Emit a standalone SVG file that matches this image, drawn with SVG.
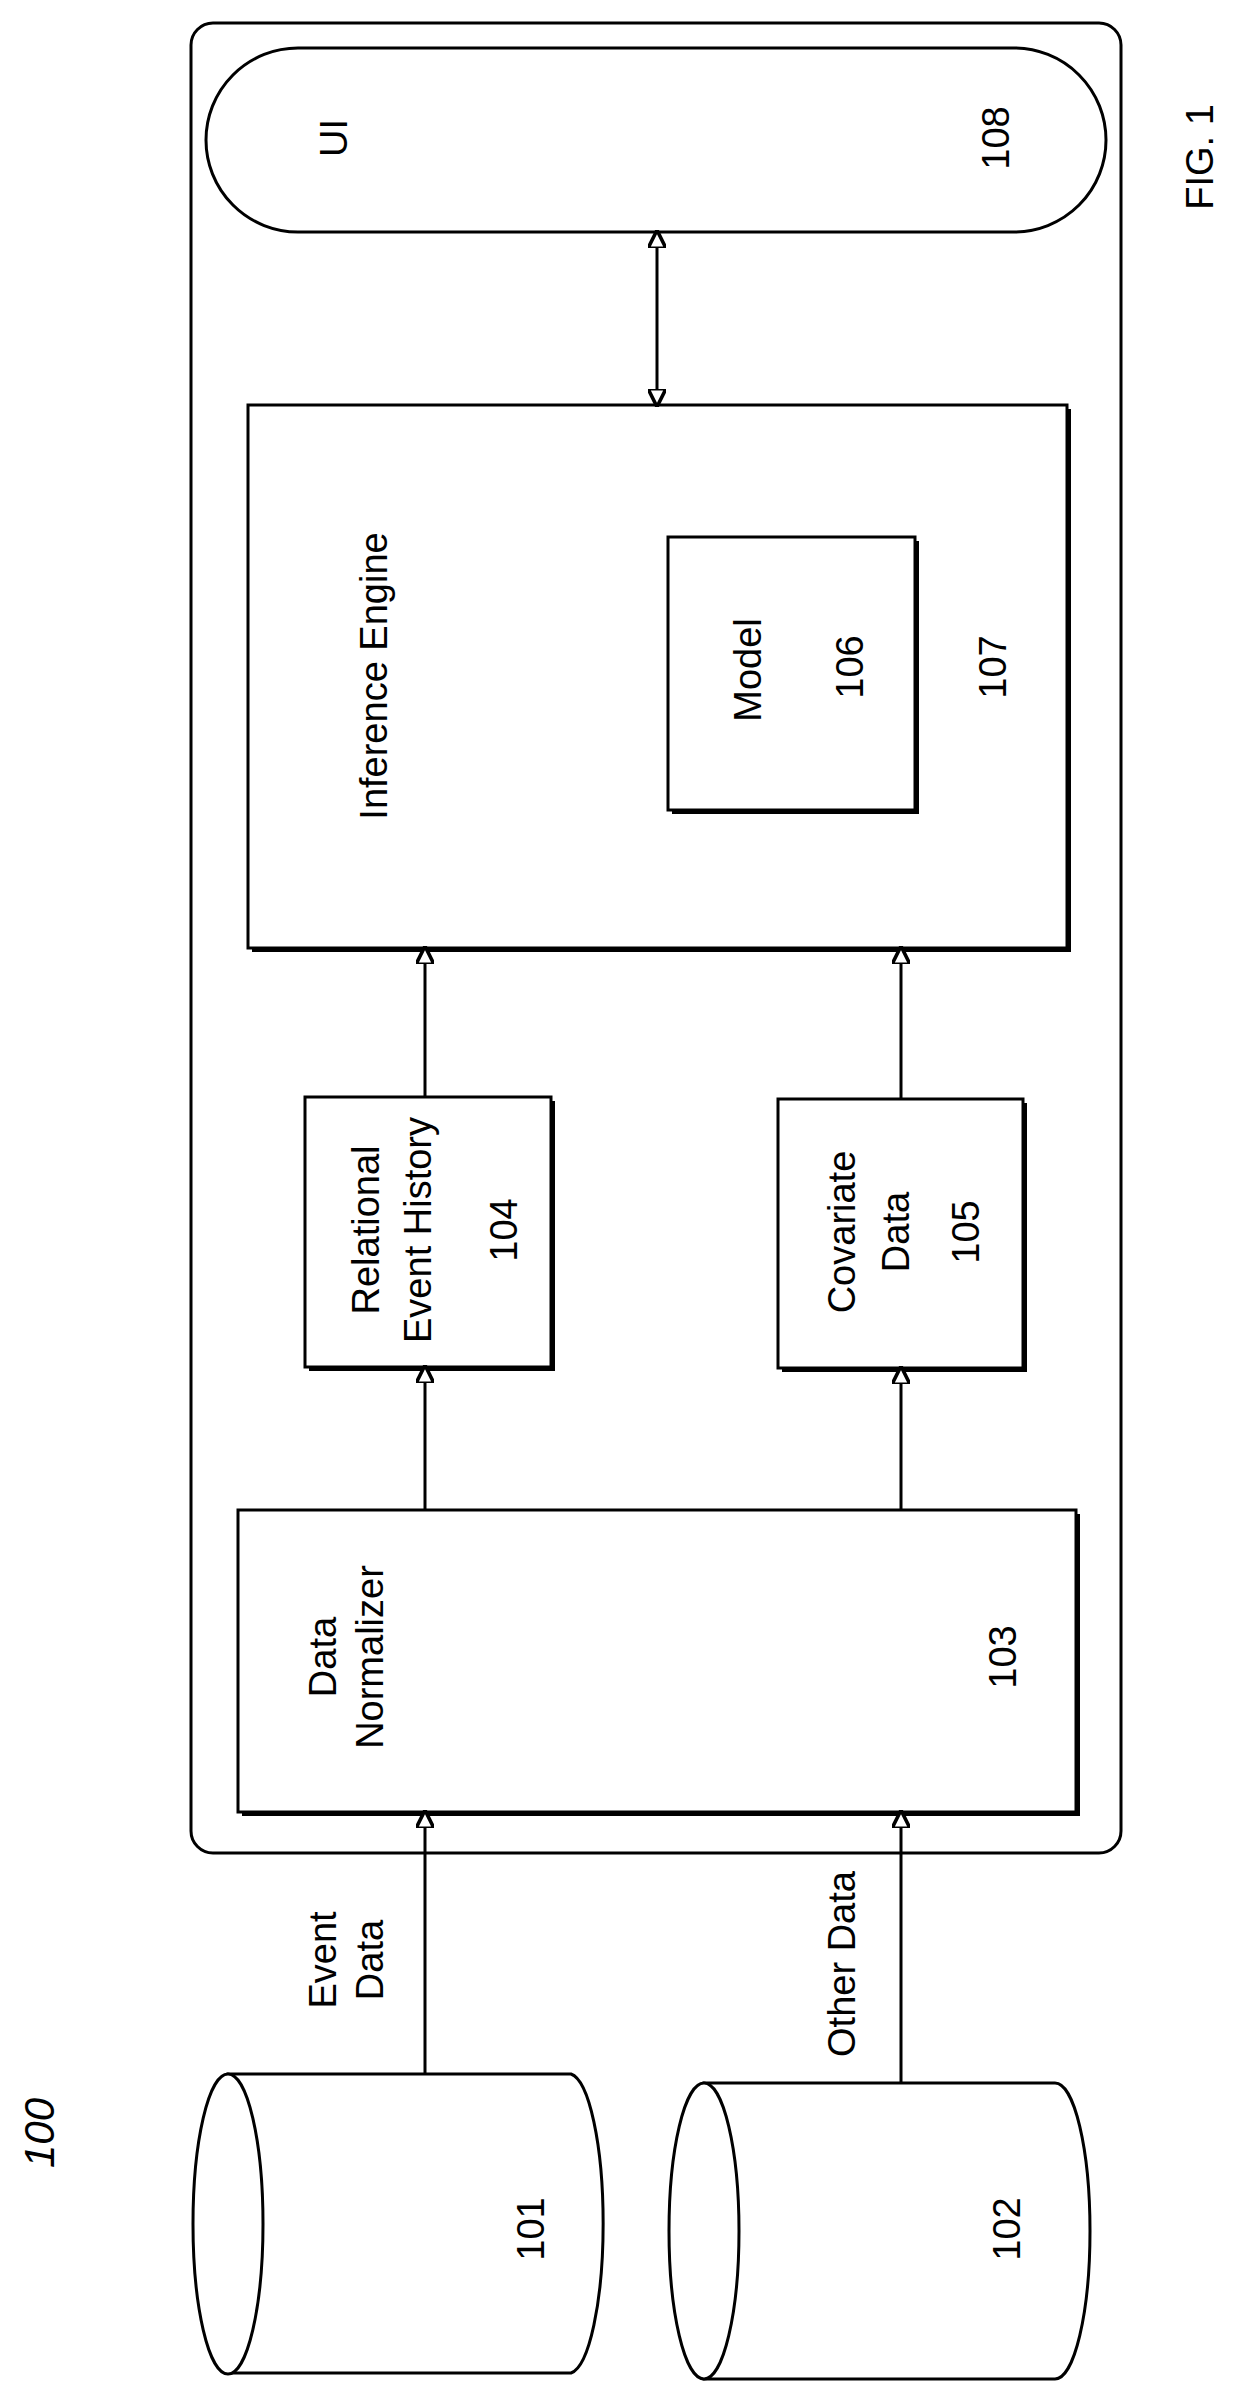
<svg xmlns="http://www.w3.org/2000/svg" width="1234" height="2388" viewBox="0 0 1234 2388">
<style>
.b{fill:#fff;stroke:#000;stroke-width:3}
.s{fill:#000}
.t{font-family:"Liberation Sans",Arial,sans-serif;font-size:38px;fill:#000;text-anchor:middle;dominant-baseline:central}
.c{stroke:#000;stroke-width:3;fill:none}
</style>
<defs>
<marker id="a" viewBox="0 0 10 10" refX="9" refY="5" markerWidth="6" markerHeight="6" orient="auto-start-reverse" markerUnits="strokeWidth"><path d="M0,0L10,5L0,10z" fill="#fff" stroke="#000" stroke-width="2"/></marker>
</defs>
<text x="39" y="2133" class="t" font-style="italic" transform="rotate(-90 39 2133)" style="font-size:42px">100</text>
<text x="1200" y="157" class="t" transform="rotate(-90 1200 157)">FIG. 1</text>
<g id="system"><rect x="191" y="23" width="930" height="1830" rx="22" class="b" stroke-width="4"/></g>
<g id="n108"><rect x="206" y="48" width="900" height="184" rx="92" class="b"/>
<text x="334" y="138" class="t" transform="rotate(-90 334 138)">UI</text>
<text x="996" y="138" class="t" transform="rotate(-90 996 138)">108</text></g>
<g id="n107"><rect x="252" y="409" width="819" height="543" class="s"/><rect x="248" y="405" width="819" height="543" class="b"/>
<text x="374" y="676" class="t" transform="rotate(-90 374 676)">Inference Engine</text>
<text x="993" y="667" class="t" transform="rotate(-90 993 667)">107</text></g>
<g id="n106"><rect x="672" y="541" width="247" height="273" class="s"/><rect x="668" y="537" width="247" height="273" class="b"/>
<text x="748" y="670" class="t" transform="rotate(-90 748 670)">Model</text>
<text x="850" y="667" class="t" transform="rotate(-90 850 667)">106</text></g>
<g id="n104"><rect x="309" y="1101" width="246" height="270" class="s"/><rect x="305" y="1097" width="246" height="270" class="b"/>
<text x="366" y="1230" class="t" transform="rotate(-90 366 1230)">Relational</text>
<text x="418" y="1230" class="t" transform="rotate(-90 418 1230)">Event History</text>
<text x="504" y="1230" class="t" transform="rotate(-90 504 1230)">104</text></g>
<g id="n105"><rect x="782" y="1103" width="245" height="269" class="s"/><rect x="778" y="1099" width="245" height="269" class="b"/>
<text x="842" y="1232" class="t" transform="rotate(-90 842 1232)">Covariate</text>
<text x="896" y="1232" class="t" transform="rotate(-90 896 1232)">Data</text>
<text x="966" y="1232" class="t" transform="rotate(-90 966 1232)">105</text></g>
<g id="n103"><rect x="242" y="1514" width="838" height="302" class="s"/><rect x="238" y="1510" width="838" height="302" class="b"/>
<text x="323" y="1657" class="t" transform="rotate(-90 323 1657)">Data</text>
<text x="370" y="1657" class="t" transform="rotate(-90 370 1657)">Normalizer</text>
<text x="1003" y="1657" class="t" transform="rotate(-90 1003 1657)">103</text></g>
<g id="n101"><path d="M228,2074H571A35,150 0 0 1 571,2373H228Z" class="b" stroke-width="4"/><ellipse cx="228" cy="2224" rx="35" ry="150" class="b"/>
<text x="531" y="2229" class="t" transform="rotate(-90 531 2229)">101</text></g>
<g id="n102"><path d="M704,2083H1055A35,148 0 0 1 1055,2379H704Z" class="b" stroke-width="4"/><ellipse cx="704" cy="2231" rx="35" ry="148" class="b"/>
<text x="1007" y="2229" class="t" transform="rotate(-90 1007 2229)">102</text></g>
<g id="connectors">
<line x1="657" y1="405" x2="657" y2="232" class="c" marker-start="url(#a)" marker-end="url(#a)"/>
<line x1="425" y1="1097" x2="425" y2="948" class="c" marker-end="url(#a)"/>
<line x1="901" y1="1099" x2="901" y2="948" class="c" marker-end="url(#a)"/>
<line x1="425" y1="1510" x2="425" y2="1367" class="c" marker-end="url(#a)"/>
<line x1="901" y1="1510" x2="901" y2="1368" class="c" marker-end="url(#a)"/>
<line x1="425" y1="2074" x2="425" y2="1812" class="c" marker-end="url(#a)"/>
<line x1="901" y1="2083" x2="901" y2="1812" class="c" marker-end="url(#a)"/>
<text x="323" y="1960" class="t" transform="rotate(-90 323 1960)">Event</text>
<text x="370" y="1960" class="t" transform="rotate(-90 370 1960)">Data</text>
<text x="842" y="1964" class="t" transform="rotate(-90 842 1964)">Other Data</text>
</g>
</svg>
